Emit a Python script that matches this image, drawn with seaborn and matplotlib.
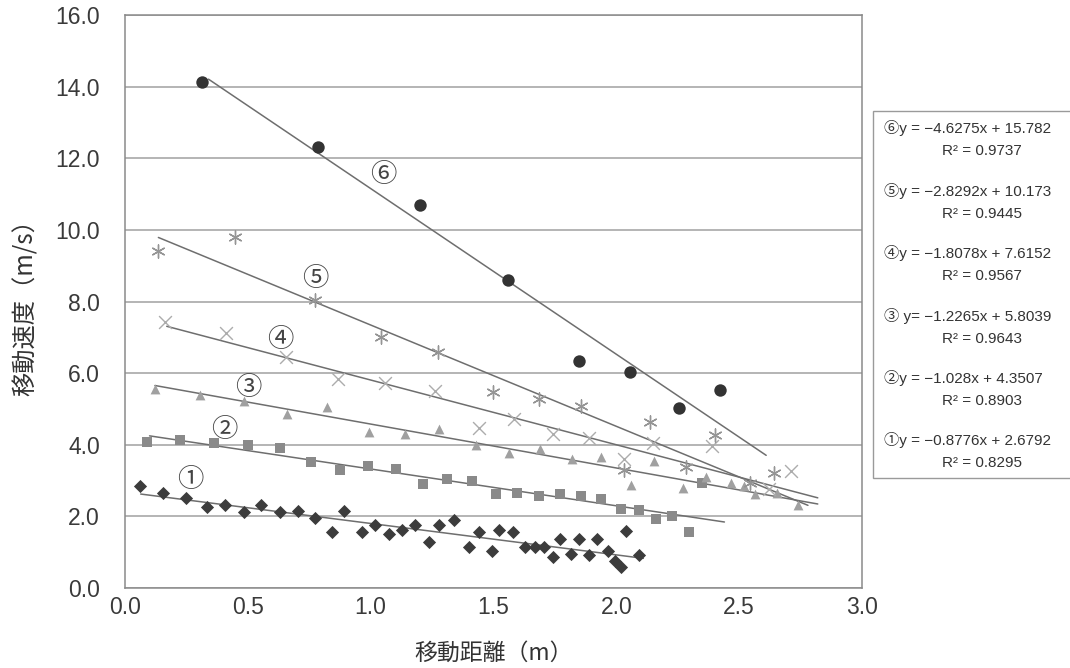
import numpy as np
import pandas as pd
import matplotlib
matplotlib.use("Agg")
import matplotlib.pyplot as plt
import seaborn as sns

# ---- data ----
x1 = [0.061, 0.156, 0.248, 0.332, 0.407, 0.484, 0.555, 0.633, 0.705, 0.775, 0.843, 0.892,
      0.965, 1.016, 1.075, 1.127, 1.179, 1.237, 1.280, 1.339, 1.402, 1.440, 1.493, 1.524,
      1.579, 1.630, 1.667, 1.707, 1.744, 1.772, 1.817, 1.847, 1.890, 1.920, 1.965, 1.996,
      2.019, 2.040, 2.091]
y1 = [2.85, 2.66, 2.50, 2.27, 2.31, 2.12, 2.32, 2.12, 2.15, 1.96, 1.57, 2.15,
      1.57, 1.75, 1.52, 1.61, 1.76, 1.29, 1.75, 1.90, 1.14, 1.57, 1.03, 1.62,
      1.56, 1.14, 1.15, 1.15, 0.86, 1.38, 0.96, 1.36, 0.91, 1.36, 1.03, 0.75,
      0.59, 1.59, 0.91]

x2 = [0.088, 0.224, 0.362, 0.501, 0.633, 0.759, 0.877, 0.989, 1.102, 1.213, 1.310, 1.412,
      1.510, 1.596, 1.687, 1.770, 1.856, 1.939, 2.020, 2.093, 2.161, 2.225, 2.294, 2.347]
y2 = [4.08, 4.13, 4.06, 3.99, 3.92, 3.52, 3.30, 3.41, 3.31, 2.90, 3.05, 2.99,
      2.62, 2.66, 2.57, 2.62, 2.57, 2.48, 2.21, 2.17, 1.92, 2.01, 1.57, 2.94]

x3 = [0.122, 0.305, 0.484, 0.660, 0.822, 0.993, 1.138, 1.280, 1.430, 1.565, 1.691, 1.820,
      1.937, 2.060, 2.154, 2.272, 2.364, 2.466, 2.520, 2.565, 2.655, 2.740]
y3 = [5.55, 5.38, 5.23, 4.85, 5.06, 4.36, 4.29, 4.43, 4.00, 3.78, 3.87, 3.61,
      3.66, 2.87, 3.55, 2.80, 3.11, 2.94, 2.85, 2.62, 2.64, 2.31]

x4 = [0.163, 0.413, 0.657, 0.867, 1.060, 1.260, 1.440, 1.585, 1.741, 1.890, 2.030, 2.150,
      2.390, 2.620, 2.710]
y4 = [7.44, 7.12, 6.44, 5.83, 5.72, 5.50, 4.48, 4.73, 4.31, 4.20, 3.60, 4.06,
      3.97, 2.76, 3.27]

x5 = [0.133, 0.447, 0.775, 1.043, 1.274, 1.500, 1.684, 1.856, 2.137, 2.400, 2.285, 2.030,
      2.640, 2.544]
y5 = [9.42, 9.81, 8.05, 7.00, 6.60, 5.48, 5.29, 5.07, 4.64, 4.27, 3.39, 3.30,
      3.22, 2.94]

x6 = [0.315, 0.786, 1.199, 1.558, 1.847, 2.057, 2.257, 2.423]
y6 = [14.13, 12.31, 10.70, 8.61, 6.34, 6.03, 5.02, 5.54]

# trend lines (from the equations in the box) and their drawn x span
slopes = [-0.8776, -1.028, -1.2265, -1.8078, -2.8292, -4.6275]
intercepts = [2.6792, 4.3507, 5.8039, 7.6152, 10.173, 15.782]
r2 = [0.8295, 0.8903, 0.9643, 0.9567, 0.9445, 0.9737]
line_start = [0.064, 0.10, 0.122, 0.17, 0.136, 0.34]
line_end = [2.11, 2.44, 2.82, 2.82, 2.78, 2.61]

circled = ["①", "②", "③", "④", "⑤", "⑥"]
label_x = [0.265, 0.403, 0.502, 0.631, 0.773, 1.051]
label_y = [3.03, 4.43, 5.60, 6.93, 8.63, 11.54]

xs = [x1, x2, x3, x4, x5, x6]
ys = [y1, y2, y3, y4, y5, y6]

markers = ["D", "s", "^", "x", (6, 2, 0), "o"]
colors = ["#3c3c3c", "#8a8a8a", "#a0a0a0", "#acacac", "#959595", "#333333"]
sizes = [45, 55, 50, 85, 90, 80]

df = pd.concat(
    [pd.DataFrame({"series": circled[i], "x": xs[i], "y": ys[i]}) for i in range(6)],
    ignore_index=True,
)

sns.set_theme(style="white")
plt.rcParams["font.family"] = ["Liberation Sans", "Noto Sans CJK JP", "DejaVu Sans"]

fig = plt.figure(figsize=(10.7, 6.68), dpi=100)
ax = fig.add_axes([0.1168, 0.1198, 0.6888, 0.8577])

for i in range(6):
    sub = df[df["series"] == circled[i]]
    lw = 1.0 if markers[i] in ("x", (6, 2, 0)) else 0
    sns.scatterplot(data=sub, x="x", y="y", marker=markers[i], color=colors[i],
                    s=sizes[i], linewidth=lw, edgecolor=colors[i] if lw == 0 else None,
                    ax=ax, zorder=3, legend=False)
    lx = np.array([line_start[i], line_end[i]])
    ly = slopes[i] * lx + intercepts[i]
    sns.lineplot(x=lx, y=ly, color="#6e6e6e", linewidth=1.1, ax=ax, zorder=2)
    ax.text(label_x[i], label_y[i], circled[i], fontsize=19, color="#444444",
            ha="center", va="center", family=["Noto Sans CJK JP", "DejaVu Sans"], zorder=4)

ax.set_xlim(0, 3.0)
ax.set_ylim(0, 16.0)
ax.set_xticks(np.arange(0, 3.01, 0.5))
ax.set_yticks(np.arange(0, 16.01, 2.0))
ax.set_xticklabels([f"{v:.1f}" for v in np.arange(0, 3.01, 0.5)])
ax.set_yticklabels([f"{v:.1f}" for v in np.arange(0, 16.01, 2.0)])
ax.yaxis.grid(True, color="#a0a0a0", linewidth=1.1)
ax.xaxis.grid(False)
for s in ax.spines.values():
    s.set_color("#8a8a8a")
    s.set_linewidth(1.1)
ax.tick_params(axis="x", direction="in", length=7, color="#8a8a8a", labelsize=16.5,
               labelcolor="#3a3a3a", pad=6)
ax.tick_params(axis="y", length=0, labelsize=16.5, labelcolor="#3a3a3a", pad=18)

ax.set_xlabel("移動距離（m）", fontsize=16.5, color="#333333", labelpad=16,
              family=["Noto Sans CJK JP"])
ax.set_ylabel("移動速度（m/s）", fontsize=17.5, color="#333333", labelpad=12,
              family=["Noto Sans CJK JP"])

# equation box on the right
box = plt.Rectangle((873 / 1070, 1 - 478 / 668), 0.2, (478 - 111) / 668,
                    transform=fig.transFigure, facecolor="white", edgecolor="#9a9a9a",
                    linewidth=1.0, clip_on=False)
fig.patches.append(box)
eq_y = [440, 378, 316, 253, 191, 128]
for i in range(6):
    eq = f"{circled[i]}y = −{abs(slopes[i])}x + {intercepts[i]}"
    if i == 2:
        eq = f"{circled[i]} y= −{abs(slopes[i])}x + {intercepts[i]}"
    fig.text(884 / 1070, 1 - eq_y[i] / 668, eq, fontsize=11, color="#333333",
             va="center", ha="left", family=["Liberation Sans", "Noto Sans CJK JP"])
    fig.text(942 / 1070, 1 - (eq_y[i] + 23) / 668, f"R² = {r2[i]:.4f}", fontsize=11,
             color="#333333", va="center", ha="left")

fig.savefig("out.png", dpi=100)
